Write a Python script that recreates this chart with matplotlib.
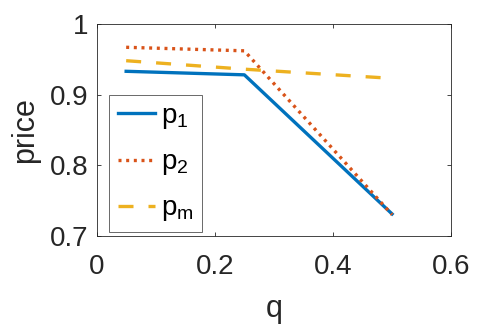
import matplotlib
matplotlib.use('Agg')
import matplotlib.pyplot as plt

# data
q = [0.05, 0.25, 0.5]
p1 = [0.933, 0.928, 0.731]
p2 = [0.967, 0.962, 0.730]
pm = [0.948, 0.936, 0.923]

x_ticks = [0, 0.2, 0.4, 0.6]
x_tick_labels = ['0', '0.2', '0.4', '0.6']
y_ticks = [0.7, 0.8, 0.9, 1.0]
y_tick_labels = ['0.7', '0.8', '0.9', '1']

plt.rcParams['font.family'] = ['Liberation Sans', 'DejaVu Sans']
plt.rcParams['mathtext.fontset'] = 'custom'
plt.rcParams['mathtext.rm'] = 'Liberation Sans'
plt.rcParams['mathtext.it'] = 'Liberation Sans'
plt.rcParams['mathtext.default'] = 'rm'

text_col = (0.15, 0.15, 0.15)
axis_col = (0.15, 0.15, 0.15)

fig = plt.figure(figsize=(4.98, 3.24), dpi=100)
ax = fig.add_axes([0.194, 0.272, 0.712, 0.654])

ax.plot(q, p1, color=(0, 0.447, 0.741), lw=2.4, ls='-', label='p$_1$')
ax.plot(q, p2, color=(0.851, 0.325, 0.098), lw=2.4,
        ls=(0, (0.9, 1.4)), label='p$_2$')
ax.plot(q, pm, color=(0.929, 0.694, 0.125), lw=2.4,
        ls=(0, (4.5, 4.5)), label='p$_m$')

ax.set_xlim(0, 0.6)
ax.set_ylim(0.7, 1.0)
ax.set_xticks(x_ticks)
ax.set_xticklabels(x_tick_labels)
ax.set_yticks(y_ticks)
ax.set_yticklabels(y_tick_labels)

ax.tick_params(direction='in', top=True, right=True, length=3,
               width=0.6, colors=axis_col, labelcolor=text_col,
               labelsize=20)
ax.tick_params(axis='x', pad=13)
ax.tick_params(axis='y', pad=6)
for s in ax.spines.values():
    s.set_color(axis_col)
    s.set_linewidth(0.6)

ax.set_xlabel('q', fontsize=22, color=text_col, labelpad=10)
ax.set_ylabel('price', fontsize=22, color=text_col, labelpad=7)

leg = ax.legend(loc='lower left', bbox_to_anchor=(0.036, 0.02),
                fontsize=20, frameon=True, fancybox=False,
                handlelength=1.35, handletextpad=0.2, labelspacing=0.65,
                borderpad=0.3, borderaxespad=0)
leg.get_frame().set_edgecolor(axis_col)
leg.get_frame().set_linewidth(0.6)
for t in leg.get_texts():
    t.set_color('black')

plt.savefig('out.png', dpi=100)
